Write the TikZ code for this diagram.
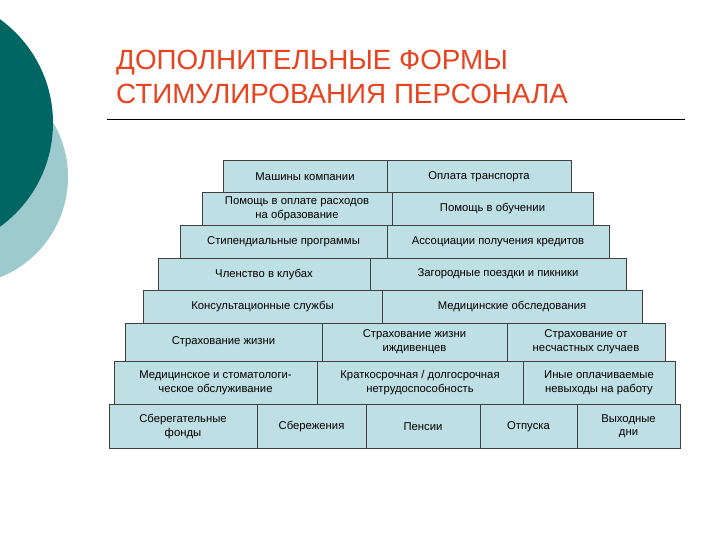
\documentclass[tikz,border=0pt]{standalone}
\usepackage{fontspec}
\setmainfont{Liberation Sans}
\usetikzlibrary{positioning}
\definecolor{darkteal}{HTML}{006664}
\definecolor{paleteal}{HTML}{9CCACD}
\definecolor{cellblue}{HTML}{BEDFE3}
\definecolor{titlered}{HTML}{E8431E}

\begin{document}
\begin{tikzpicture}[
    x=1pt, y=-1pt,
    title/.style={inner sep=0pt, anchor=base west, text=titlered,
                  font=\fontsize{27.8}{33}\selectfont},
    cell/.style={draw=black!75, line width=0.5pt, fill=cellblue,
                 inner sep=1pt, outer sep=0pt, align=center,
                 font=\fontsize{11.3}{13.8}\selectfont},
    low/.style={cell, minimum height=32.6pt},
    mid/.style={cell, minimum height=38pt},
    high/.style={cell, minimum height=43.5pt},
    rule/.style={line width=0.8pt, color=black},
]
    \useasboundingbox (0,0) rectangle (720,540);
    % decorative circles
    \fill[paleteal] (-40,177) circle[radius=108pt];
    \fill[darkteal] (-75,123) circle[radius=128pt];

    \node[title] (head)    at (116,70)  {ДОПОЛНИТЕЛЬНЫЕ ФОРМЫ};
    \node[title] (subhead) at (116,104) {СТИМУЛИРОВАНИЯ ПЕРСОНАЛА};
    \draw[rule] (107,119) -- (685,119);

    % pyramid rows
    \node[low, minimum width=164pt, anchor=north west] (cars) at (223,160) {Машины компании};
    \node[low, minimum width=184pt, right=0pt of cars] (fare) {Оплата транспорта};

    \node[low, minimum width=190pt, anchor=north west] (edufee) at (202,192.6) {Помощь в оплате расходов\\на образование};
    \node[low, minimum width=201pt, right=0pt of edufee] (training) {Помощь в обучении};

    \node[low, minimum width=207pt, anchor=north west] (grants) at (180,225.2) {Стипендиальные программы};
    \node[low, minimum width=222pt, right=0pt of grants] (credit) {Ассоциации получения кредитов};

    \node[low, minimum width=212pt, anchor=north west] (clubs) at (158,257.8) {Членство в клубах};
    \node[low, minimum width=256pt, right=0pt of clubs] (trips) {Загородные поездки и пикники};

    \node[low, minimum width=239pt, anchor=north west] (consult) at (143,290.4) {Консультационные службы};
    \node[low, minimum width=260pt, right=0pt of consult] (checkup) {Медицинские обследования};

    \node[mid, minimum width=197pt, anchor=north west] (life) at (125,323) {Страхование жизни};
    \node[mid, minimum width=185pt, right=0pt of life] (deplife) {Страхование жизни\\иждивенцев};
    \node[mid, minimum width=158pt, right=0pt of deplife] (accid) {Страхование от\\несчастных случаев};

    \node[high, minimum width=203pt, anchor=north west] (medcare) at (114,361) {Медицинское и стоматологи-\\ческое обслуживание};
    \node[high, minimum width=206pt, right=0pt of medcare] (disab) {Краткосрочная / долгосрочная\\нетрудоспособность};
    \node[high, minimum width=152pt, right=0pt of disab] (absence) {Иные оплачиваемые\\невыходы на работу};

    \node[high, minimum width=148pt, anchor=north west] (savfund) at (109,404.5) {Сберегательные\\фонды};
    \node[high, minimum width=109pt, right=0pt of savfund] (savings) {Сбережения};
    \node[high, minimum width=114pt, right=0pt of savings] (pens) {Пенсии};
    \node[high, minimum width=97pt, right=0pt of pens] (leave) {Отпуска};
    \node[high, minimum width=103pt, right=0pt of leave] (daysoff) {Выходные\\дни};
\end{tikzpicture}
\end{document}
